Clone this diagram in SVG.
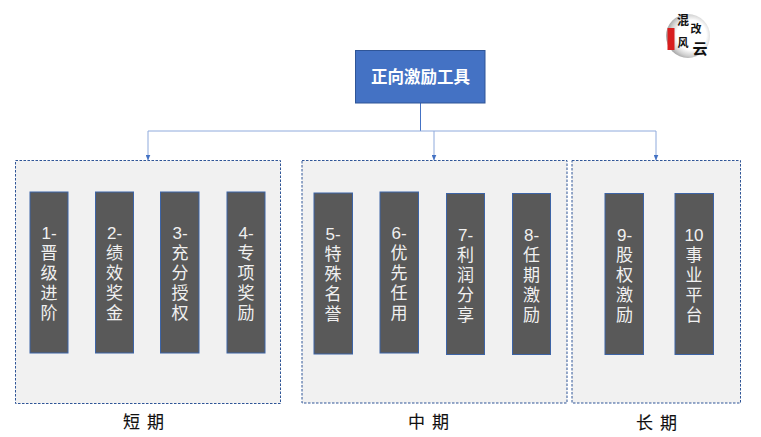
<svg xmlns="http://www.w3.org/2000/svg" width="761" height="437" viewBox="0 0 761 437">
<style>
text{font-family:"Liberation Sans","Noto Sans CJK SC",sans-serif;text-anchor:middle}
.panel{fill:#f1f1f1;stroke:#2f5597;stroke-width:1;stroke-dasharray:2.5 1.5}
.bar{fill:#595959;stroke:#3d64a6;stroke-width:1}
.bt{fill:#f0f0f0;font-size:17px}
.cap{fill:#111;font-size:17px;word-spacing:2.500px;stroke:#111;stroke-width:0.100}
.conn{fill:none;stroke:#8faadc;stroke-width:1}
.logo{fill:#111;font-family:"Noto Sans CJK SC",sans-serif;font-weight:700}
</style>
<defs>
<marker id="arr" markerWidth="6" markerHeight="5" refX="5.500" refY="2.500" orient="auto" markerUnits="userSpaceOnUse"><path d="M0 0L6 2.500L0 5z" fill="#4472c4"/></marker>
<radialGradient id="lg" cx="0.58" cy="0.48" r="0.56"><stop offset="0.6" stop-color="#fff"/><stop offset="0.85" stop-color="#d0d0d0"/><stop offset="1" stop-color="#a8a8a8"/></radialGradient>
</defs>
<g id="panel-short"><rect class="panel" x="15.500" y="160.500" width="265" height="243"/></g>
<g id="panel-mid"><rect class="panel" x="302" y="160.500" width="265" height="242.500"/></g>
<g id="panel-long"><rect class="panel" x="572" y="160.500" width="168.500" height="242.500"/></g>
<g id="connectors">
<path d="M420.500 103V131" fill="none" stroke="#4472c4"/>
<path class="conn" d="M148 131H656"/>
<path class="conn" d="M148 131V160" marker-end="url(#arr)"/>
<path class="conn" d="M434 131V160" marker-end="url(#arr)"/>
<path class="conn" d="M656 131V160" marker-end="url(#arr)"/>
</g>
<g id="root"><rect x="355.500" y="50.500" width="129.500" height="52.500" fill="#4472c4" stroke="#2f5597"/><text x="420.500" y="82.500" fill="#fff" font-size="16.500px" font-weight="700">正向激励工具</text></g>
<g id="n1"><rect class="bar" x="30" y="192" width="38" height="161"/><text class="bt" y="239"><tspan x="49">1-</tspan><tspan x="49" dy="20">晋</tspan><tspan x="49" dy="20">级</tspan><tspan x="49" dy="20">进</tspan><tspan x="49" dy="20">阶</tspan></text></g>
<g id="n2"><rect class="bar" x="95.500" y="192" width="38" height="161"/><text class="bt" y="239"><tspan x="114.500">2-</tspan><tspan x="114.500" dy="20">绩</tspan><tspan x="114.500" dy="20">效</tspan><tspan x="114.500" dy="20">奖</tspan><tspan x="114.500" dy="20">金</tspan></text></g>
<g id="n3"><rect class="bar" x="160.500" y="192" width="38.500" height="161"/><text class="bt" y="239"><tspan x="180">3-</tspan><tspan x="180" dy="20">充</tspan><tspan x="180" dy="20">分</tspan><tspan x="180" dy="20">授</tspan><tspan x="180" dy="20">权</tspan></text></g>
<g id="n4"><rect class="bar" x="227" y="192" width="38" height="161"/><text class="bt" y="239"><tspan x="246">4-</tspan><tspan x="246" dy="20">专</tspan><tspan x="246" dy="20">项</tspan><tspan x="246" dy="20">奖</tspan><tspan x="246" dy="20">励</tspan></text></g>
<g id="n5"><rect class="bar" x="314" y="193" width="38.500" height="161"/><text class="bt" y="240"><tspan x="333">5-</tspan><tspan x="333" dy="20">特</tspan><tspan x="333" dy="20">殊</tspan><tspan x="333" dy="20">名</tspan><tspan x="333" dy="20">誉</tspan></text></g>
<g id="n6"><rect class="bar" x="380" y="192" width="38.500" height="161"/><text class="bt" y="239"><tspan x="399">6-</tspan><tspan x="399" dy="20">优</tspan><tspan x="399" dy="20">先</tspan><tspan x="399" dy="20">任</tspan><tspan x="399" dy="20">用</tspan></text></g>
<g id="n7"><rect class="bar" x="446.500" y="193.500" width="38" height="161"/><text class="bt" y="241"><tspan x="465.500">7-</tspan><tspan x="465.500" dy="20">利</tspan><tspan x="465.500" dy="20">润</tspan><tspan x="465.500" dy="20">分</tspan><tspan x="465.500" dy="20">享</tspan></text></g>
<g id="n8"><rect class="bar" x="512.500" y="193.500" width="38" height="161"/><text class="bt" y="241"><tspan x="531.500">8-</tspan><tspan x="531.500" dy="20">任</tspan><tspan x="531.500" dy="20">期</tspan><tspan x="531.500" dy="20">激</tspan><tspan x="531.500" dy="20">励</tspan></text></g>
<g id="n9"><rect class="bar" x="605" y="193.500" width="38.500" height="161"/><text class="bt" y="241"><tspan x="624.500">9-</tspan><tspan x="624.500" dy="20">股</tspan><tspan x="624.500" dy="20">权</tspan><tspan x="624.500" dy="20">激</tspan><tspan x="624.500" dy="20">励</tspan></text></g>
<g id="n10"><rect class="bar" x="675" y="193.500" width="38.500" height="161"/><text class="bt" y="241"><tspan x="694">10</tspan><tspan x="694" dy="20">事</tspan><tspan x="694" dy="20">业</tspan><tspan x="694" dy="20">平</tspan><tspan x="694" dy="20">台</tspan></text></g>
<g id="cap-short"><text class="cap" x="143.500" y="428" xml:space="preserve">短 期</text></g>
<g id="cap-mid"><text class="cap" x="428.500" y="428" xml:space="preserve">中 期</text></g>
<g id="cap-long"><text class="cap" x="656.500" y="429" xml:space="preserve">长 期</text></g>
<g id="logo">
<circle cx="688" cy="36" r="22" fill="url(#lg)"/>
<rect x="667.500" y="28" width="7" height="22" fill="#d81e1e"/>
<text class="logo" x="683" y="25" font-size="12px">混</text>
<text class="logo" x="696" y="33" font-size="11px">改</text>
<text class="logo" x="683" y="47" font-size="11px">风</text>
<text class="logo" x="700" y="54" font-size="15px">云</text>
</g>
</svg>
